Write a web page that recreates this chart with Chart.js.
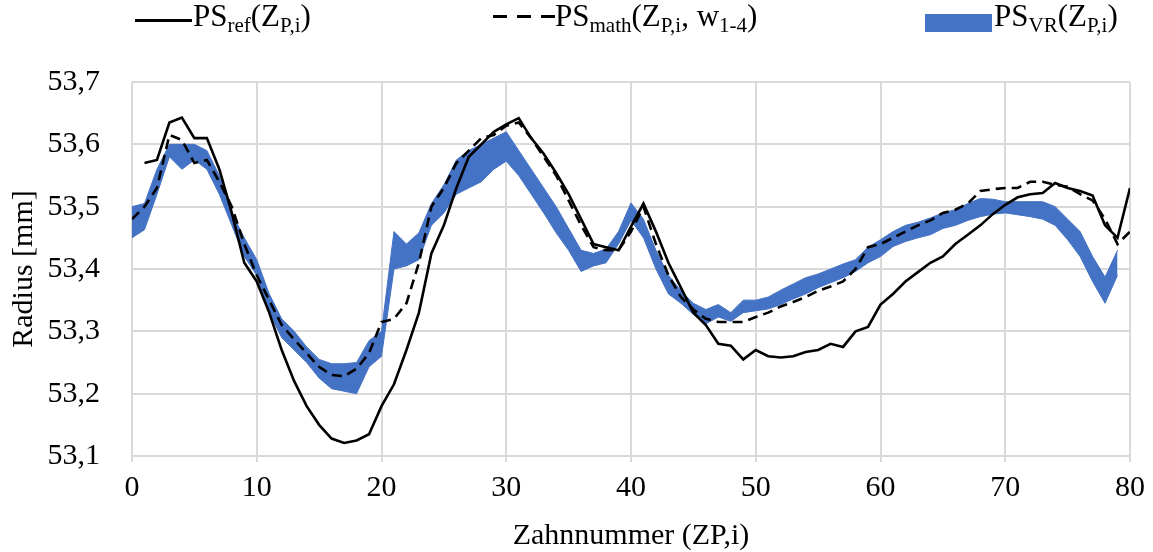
<!DOCTYPE html>
<html>
<head>
<meta charset="utf-8">
<script src="https://cdn.jsdelivr.net/npm/chart.js@4/dist/chart.umd.min.js"></script>
<style>
  body { margin: 0; background: #fff; }
  #wrap { position: relative; width: 1153px; height: 552px; font-family: 'Liberation Serif', 'Times New Roman', serif; }
  #legend span.item { position: absolute; top: -4px; font-size: 31px; line-height: 40px; color: #000; white-space: nowrap; }
  #legend sub { font-size: 21px; vertical-align: -6px; line-height: 0; }
  .mark { position: absolute; }
</style>
</head>
<body>
<div id="wrap">
  <canvas id="line_chart" width="1153" height="552"></canvas>
  <div id="legend">
    <div class="mark" style="left:135px;top:19px;width:57px;height:3px;background:#000"></div>
    <span class="item" style="left:193px">PS<sub>ref</sub>(Z<sub>P,i</sub>)</span>
    <div class="mark" style="left:493px;top:15px;width:62px;height:3px;background:repeating-linear-gradient(90deg,#000 0 14px,transparent 14px 24px)"></div>
    <span class="item" style="left:555px">PS<sub>math</sub>(Z<sub>P,i</sub>, w<sub>1-4</sub>)</span>
    <div class="mark" style="left:925px;top:14px;width:67px;height:18px;background:#4472C4"></div>
    <span class="item" style="left:994px">PS<sub>VR</sub>(Z<sub>P,i</sub>)</span>
  </div>
</div>
<script>
var zahn = [0, 1, 2, 3, 4, 5, 6, 7, 8, 9, 10, 11, 12, 13, 14, 15, 16, 17, 18, 19, 20,
    21, 22, 23, 24, 25, 26, 27, 28, 29, 30, 31, 32, 33, 34, 35, 36, 37, 38, 39, 40,
    41, 42, 43, 44, 45, 46, 47, 48, 49, 50, 51, 52, 53, 54, 55, 56, 57, 58, 59, 60,
    61, 62, 63, 64, 65, 66, 67, 68, 69, 70, 71, 72, 73, 74, 75, 76, 77, 78, 79, 80];

var psRef = [null, 53.57, 53.575, 53.635, 53.643, 53.61, 53.61, 53.56, 53.49, 53.41, 53.38,
    53.33, 53.27, 53.22, 53.18, 53.15, 53.128, 53.121, 53.125, 53.135, 53.18,
    53.215, 53.27, 53.33, 53.425, 53.47, 53.53, 53.58, 53.60, 53.62, 53.632,
    53.642, 53.61, 53.585, 53.554, 53.52, 53.48, 53.44, 53.435, 53.43, 53.468,
    53.505, 53.46, 53.41, 53.37, 53.33, 53.31, 53.28, 53.277, 53.255, 53.27,
    53.26, 53.258, 53.26, 53.267, 53.27, 53.28, 53.275, 53.30, 53.307, 53.343,
    53.36, 53.38, 53.395, 53.41, 53.42, 53.44, 53.455, 53.47, 53.488, 53.503,
    53.515, 53.52, 53.522, 53.538, 53.53, 53.525, 53.518, 53.47, 53.45, 53.53];

var psMath = [53.48, 53.50, 53.53, 53.615, 53.607, 53.57, 53.575, 53.54, 53.50, 53.44, 53.39,
    53.35, 53.31, 53.287, 53.265, 53.243, 53.23, 53.228, 53.24, 53.265, 53.315,
    53.32, 53.345, 53.41, 53.50, 53.53, 53.57, 53.59, 53.61, 53.615, 53.63,
    53.635, 53.61, 53.58, 53.55, 53.51, 53.47, 53.435, 53.43, 53.43, 53.46,
    53.50, 53.44, 53.39, 53.355, 53.335, 53.32, 53.315, 53.315, 53.315, 53.323,
    53.33, 53.34, 53.347, 53.355, 53.365, 53.372, 53.38, 53.40, 53.435, 53.44,
    53.45, 53.46, 53.47, 53.478, 53.49, 53.495, 53.505, 53.525, 53.528, 53.53,
    53.53, 53.54, 53.54, 53.535, 53.532, 53.52, 53.51, 53.48, 53.44, 53.46];

var vrOben = [53.50, 53.505, 53.56, 53.60, 53.60, 53.60, 53.59, 53.55, 53.49, 53.45, 53.415,
    53.36, 53.32, 53.30, 53.275, 53.255, 53.248, 53.248, 53.25, 53.285, 53.30,
    53.46, 53.44, 53.458, 53.505, 53.535, 53.575, 53.59, 53.60, 53.61, 53.62,
    53.59, 53.56, 53.53, 53.50, 53.465, 53.43, 53.425, 53.432, 53.46, 53.506,
    53.48, 53.43, 53.39, 53.365, 53.345, 53.335, 53.343, 53.33, 53.35, 53.35,
    53.355, 53.366, 53.376, 53.386, 53.392, 53.40, 53.408, 53.415, 53.435, 53.447,
    53.46, 53.47, 53.475, 53.482, 53.49, 53.495, 53.505, 53.513, 53.512, 53.508,
    53.508, 53.508, 53.508, 53.50, 53.48, 53.46, 53.42, 53.387, 53.43, null];

var vrUnten = [53.45, 53.463, 53.52, 53.58, 53.56, 53.575, 53.56, 53.52, 53.47, 53.42, 53.39,
    53.33, 53.29, 53.27, 53.25, 53.225, 53.208, 53.204, 53.20, 53.243, 53.26,
    53.40, 53.405, 53.415, 53.47, 53.49, 53.52, 53.53, 53.54, 53.56, 53.573,
    53.55, 53.52, 53.49, 53.458, 53.43, 53.396, 53.405, 53.41, 53.44, 53.478,
    53.45, 53.40, 53.36, 53.345, 53.327, 53.312, 53.323, 53.316, 53.33, 53.333,
    53.336, 53.343, 53.352, 53.36, 53.37, 53.378, 53.386, 53.396, 53.41, 53.42,
    53.436, 53.444, 53.45, 53.455, 53.465, 53.47, 53.478, 53.484, 53.488, 53.49,
    53.487, 53.484, 53.48, 53.47, 53.447, 53.42, 53.38, 53.345, 53.39, null];

var yTicks = [53.1, 53.2, 53.3, 53.4, 53.5, 53.6, 53.7];

function punkte(werte) {
    var out = [];
    for (var i = 0; i < zahn.length; i++) {
        if (werte[i] !== null) out.push({ x: zahn[i], y: werte[i] });
    }
    return out;
}

var blau = '#4472C4';
var schrift = { family: "'Liberation Serif', 'Times New Roman', serif", size: 30 };

new Chart(document.getElementById("line_chart").getContext("2d"), {
    type: 'line',
    data: {
        datasets: [{
            label: 'PSref',
            data: punkte(psRef),
            borderColor: '#000',
            borderWidth: 2.6,
            pointRadius: 0,
            fill: false,
            tension: 0
        }, {
            label: 'PSmath',
            data: punkte(psMath),
            borderColor: '#000',
            borderWidth: 2.6,
            borderDash: [10, 6],
            pointRadius: 0,
            fill: false,
            tension: 0
        }, {
            label: 'PSVR oben',
            data: punkte(vrOben),
            borderColor: blau,
            backgroundColor: blau,
            borderWidth: 1,
            pointRadius: 0,
            fill: '+1',
            tension: 0
        }, {
            label: 'PSVR unten',
            data: punkte(vrUnten),
            borderColor: blau,
            backgroundColor: blau,
            borderWidth: 1,
            pointRadius: 0,
            fill: false,
            tension: 0
        }]
    },
    options: {
        responsive: false,
        animation: false,
        layout: { padding: { top: 82, right: 22, left: 0, bottom: 0 } },
        plugins: { legend: { display: false }, tooltip: { enabled: false } },
        scales: {
            x: {
                type: 'linear',
                min: 0,
                max: 80,
                afterFit: function (s) { s.height = 96; },
                ticks: { stepSize: 10, color: '#000', font: schrift, padding: 8 },
                grid: { color: '#d9d9d9', lineWidth: 2, tickLength: 6 },
                border: { color: '#d9d9d9', width: 2 },
                title: { display: true, text: 'Zahnnummer (ZP,i)', color: '#000', font: schrift, padding: { top: 0, bottom: -2 } }
            },
            y: {
                min: 53.1,
                max: 53.7,
                afterFit: function (s) { s.width = 132; },
                afterBuildTicks: function (s) { s.ticks = yTicks.map(function (v) { return { value: v }; }); },
                ticks: {
                    color: '#000', font: schrift, padding: 32,
                    callback: function (v) { return v.toFixed(1).replace('.', ','); }
                },
                grid: { color: '#d9d9d9', lineWidth: 2, drawTicks: false },
                border: { display: false },
                title: { display: true, text: 'Radius [mm]', color: '#000', font: schrift, padding: { top: 6, bottom: 0 } }
            }
        }
    }
});
</script>
</body>
</html>
